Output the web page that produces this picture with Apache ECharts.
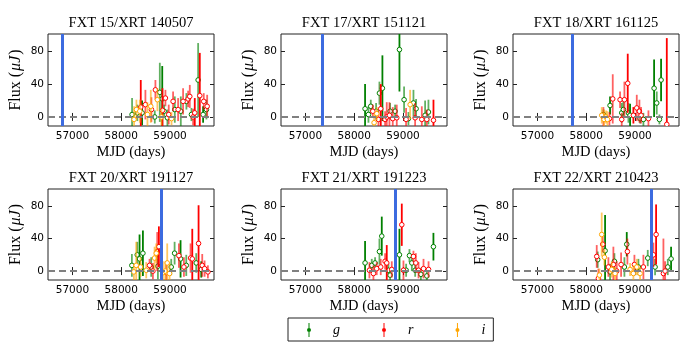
<!DOCTYPE html>
<html>
<head>
<meta charset="utf-8">
<script src="https://cdn.jsdelivr.net/npm/echarts@6/dist/echarts.min.js"></script>
<style>
  html, body { margin: 0; padding: 0; background: #fff; }
  #chart { width: 700px; height: 350px; }
</style>
</head>
<body>
<div id="chart"></div>
<script>
// panel titles and the XRT detection date (MJD) of each source
const titles = ['FXT 15/XRT 140507', 'FXT 17/XRT 151121', 'FXT 18/XRT 161125',
  'FXT 20/XRT 191127', 'FXT 21/XRT 191223', 'FXT 22/XRT 210423']
const xrtMjd = [56784, 57347, 57717, 58814, 58840, 59327]
const xTicks = [57000, 58000, 59000]
const yTicks = [0, 40, 80]

// rows: [MJD, flux (uJy), error, detection flag]
const fxt15_g = [[58222, 3, 20, 0], [58330, 5, 10, 0], [58427, 5, 15, 1], [58687, 0, 8, 0],
  [58790, 30, 36, 0], [58840, 22, 40, 1], [58878, 7, 8, 0], [58946, -1, 10, 0], [59097, 9, 16, 0],
  [59220, 7, 18, 0], [59335, 19, 10, 0], [59438, 3, 8, 0], [59575, 45, 45, 0], [59677, 3, 10, 1],
  [59745, 9, 12, 0]]
const fxt15_r = [[58400, 12, 33, 1], [58495, 15, 18, 0], [58618, 9, 15, 0], [58700, 33, 12, 0],
  [58844, 8, 27, 1], [58905, 23, 10, 0], [58973, 3, 12, 0], [59062, 19, 12, 0], [59165, 9, 14, 0],
  [59267, 19, 16, 0], [59370, 22, 10, 0], [59404, 25, 14, 0], [59472, 0, 10, 0], [59506, 5, 18, 1],
  [59609, 26, 52, 1], [59690, 19, 10, 0], [59760, 13, 14, 0]]
const fxt15_i = [[58263, -3, 16, 0], [58311, 9, 12, 0], [58380, 7, 14, 0], [58537, 3, 15, 0],
  [58605, 13, 20, 0], [58741, 21, 14, 0], [58823, 0, 10, 0], [59030, -2, 8, 0]]

const fxt17_g = [[58222, 10, 30, 1], [58291, 3, 10, 0], [58339, 13, 8, 0], [58448, 7, 10, 0],
  [58516, 29, 14, 0], [58577, 35, 40, 1], [58735, 7, 10, 0], [58837, 7, 8, 0], [58926, 82, 51, 1],
  [59021, 21, 16, 0], [59110, -2, 8, 0], [59213, 17, 16, 0], [59267, 10, 12, 0], [59452, 2, 18, 0],
  [59520, 6, 15, 0]]
const fxt17_r = [[58380, 7, 8, 0], [58496, -3, 10, 0], [58543, 10, 30, 1], [58632, -3, 10, 0],
  [58666, 0, 18, 0], [58721, 2, 16, 0], [58789, -2, 14, 0], [58871, -1, 16, 0], [59062, -3, 14, 0],
  [59247, -1, 18, 0], [59384, -3, 16, 0], [59486, -3, 12, 0], [59623, -4, 25, 1]]
const fxt17_i = [[58407, -7, 10, 0], [58462, 4, 8, 0], [59145, 15, 18, 0]]

const fxt18_g = [[58352, 3, 6, 0], [58488, 14, 11, 1], [58727, 5, 12, 0], [58761, 9, 10, 0],
  [58864, 5, 12, 0], [58898, 2, 14, 1], [59103, -2, 6, 0], [59171, -3, 8, 0], [59390, 35, 35, 1],
  [59444, 17, 14, 0], [59499, -3, 6, 0], [59533, 45, 26, 1]]
const fxt18_r = [[58352, 0, 12, 0], [58475, -2, 8, 0], [58543, 22, 30, 0], [58693, 21, 10, 0],
  [58727, -3, 8, 0], [58782, 21, 22, 0], [58850, 41, 36, 1], [58966, 2, 10, 1], [59035, 11, 16, 0],
  [59089, 7, 14, 0], [59123, 2, 10, 0], [59274, -2, 10, 0], [59650, -9, 105, 1]]
const fxt18_i = [[58318, 2, 10, 0], [58365, -3, 12, 0], [58406, 0, 8, 0], [58434, -3, 10, 0]]

const fxt20_g = [[58218, 7, 14, 0], [58328, 20, 16, 0], [58375, 15, 30, 1], [58444, 22, 28, 1],
  [58614, 5, 12, 0], [58751, 6, 16, 0], [59024, 5, 10, 0], [59093, 22, 14, 0], [59215, 15, 23, 1],
  [59332, 7, 13, 0], [59536, 10, 12, 0], [59639, 2, 10, 1]]
const fxt20_r = [[58580, 7, 8, 0], [58649, 0, 10, 0], [58737, 24, 24, 0], [58771, 30, 25, 1],
  [58922, -2, 10, 0], [59181, 19, 15, 0], [59284, 5, 12, 0], [59420, 16, 18, 0], [59455, 15, 37, 1],
  [59584, 34, 47, 1], [59659, 7, 14, 0], [59707, 3, 10, 0], [59775, -1, 8, 0]]
const fxt20_i = [[58259, -1, 10, 0], [58307, 7, 29, 0], [58396, 5, 12, 0], [58512, 1, 10, 0],
  [58683, 16, 14, 0], [58717, 22, 12, 0], [58854, -2, 14, 0], [58901, 0, 12, 0], [58942, 10, 24, 0],
  [58990, -3, 12, 0]]

const fxt21_g = [[58222, 10, 27, 1], [58359, 7, 8, 0], [58427, 10, 7, 0], [58516, 24, 16, 0],
  [58564, 43, 24, 1], [58700, 1, 8, 0], [58735, -5, 8, 0], [58926, 20, 32, 1], [59063, 1, 8, 0],
  [59131, 19, 8, 0], [59180, 10, 10, 0], [59248, 1, 8, 0], [59365, -4, 8, 0], [59487, -6, 8, 0],
  [59622, 30, 17, 1]]
const fxt21_r = [[58311, 1, 10, 0], [58393, -3, 10, 0], [58461, 3, 8, 0], [58543, 5, 10, 0],
  [58632, 12, 10, 0], [58666, 10, 22, 1], [58769, 2, 10, 0], [58974, 57, 26, 1], [59008, 1, 12, 0],
  [59213, 18, 7, 0], [59262, 10, 12, 0], [59317, 1, 10, 0], [59419, 3, 12, 0], [59522, 2, 10, 0]]
const fxt21_i = []

const fxt22_g = [[58235, 14, 10, 0], [58386, 25, 44, 1], [58488, -1, 10, 0], [58577, 12, 10, 0],
  [58782, 5, 12, 0], [58830, 33, 15, 1], [59069, 5, 10, 0], [59260, 16, 10, 0], [59410, 5, 10, 0],
  [59670, 5, 10, 0], [59738, 15, 15, 1]]
const fxt22_r = [[58215, 18, 14, 0], [58249, -9, 12, 0], [58338, 33, 10, 0], [58454, 5, 12, 0],
  [58556, 8, 22, 0], [58625, 0, 12, 0], [58714, 8, 15, 0], [58843, 24, 16, 0], [58987, 8, 12, 0],
  [59171, 5, 15, 0], [59376, 20, 15, 0], [59431, 45, 37, 1], [59581, -3, 43, 0], [59615, 0, 12, 0]]
const fxt22_i = [[58270, -5, 8, 0], [58317, 45, 27, 0], [58372, 17, 10, 0], [58522, 2, 10, 0],
  [58590, -3, 8, 0], [58898, 2, 8, 0], [58966, -3, 10, 0], [59035, 5, 10, 0], [59103, -3, 8, 0]]

const panelData = [
  [fxt15_g, fxt15_r, fxt15_i],
  [fxt17_g, fxt17_r, fxt17_i],
  [fxt18_g, fxt18_r, fxt18_i],
  [fxt20_g, fxt20_r, fxt20_i],
  [fxt21_g, fxt21_r, fxt21_i],
  [fxt22_g, fxt22_r, fxt22_i]
]
const bands = ['g', 'r', 'i']
const bandColors = ['#008000', '#ff0000', '#ffa500']

const cellLeft = [48, 281, 513]
const rowTop = [34, 189]
const rowH = [92, 91]
const cellW = 166
const serif = 'Liberation Serif'
const sans = 'DejaVu Sans'

function errorBar(params, api) {
  const x = api.value(0)
  const y = api.value(1)
  const e = api.value(2)
  const det = api.value(3)
  const color = api.visual('color')
  const top = api.coord([x, y + e])
  const bot = api.coord([x, y - e])
  const c = api.coord([x, y])
  return {
    type: 'group',
    children: [
      {
        type: 'line',
        shape: { x1: top[0], y1: top[1], x2: bot[0], y2: bot[1] },
        style: { stroke: color, lineWidth: 1.8, opacity: det ? 1 : 0.62 }
      },
      {
        type: 'circle',
        shape: { cx: c[0], cy: c[1], r: 2.3 },
        style: { fill: '#fff', stroke: color, lineWidth: 1 }
      }
    ]
  }
}

const grid = []
const xAxis = []
const yAxis = []
const series = []

panelData.forEach((bandsData, k) => {
  const row = Math.floor(k / 3)
  const col = k % 3
  grid.push({
    left: cellLeft[col], top: rowTop[row], width: cellW, height: rowH[row],
    show: true, borderColor: '#222', borderWidth: 1, backgroundColor: 'transparent'
  })
  const tick = { inside: true, length: 4, lineStyle: { color: '#222', width: 1 } }
  xAxis.push({
    type: 'value', gridIndex: k, min: 56500, max: 59900, position: 'bottom',
    axisLine: { show: false }, splitLine: { show: false },
    axisTick: Object.assign({ customValues: xTicks }, tick),
    axisLabel: {
      customValues: xTicks, color: '#000', fontFamily: sans, fontSize: 10.5, margin: 5,
      formatter: (v) => String(v)
    },
    name: 'MJD (days)', nameLocation: 'middle', nameGap: 19,
    nameTextStyle: { fontFamily: serif, fontSize: 14.5, color: '#000' }
  })
  // top axis carries the panel title
  xAxis.push({
    type: 'value', gridIndex: k, min: 56500, max: 59900, position: 'top',
    axisLine: { show: false }, splitLine: { show: false },
    axisTick: Object.assign({ customValues: xTicks }, tick),
    axisLabel: { show: false },
    name: titles[k], nameLocation: 'middle', nameGap: 3,
    nameTextStyle: { fontFamily: serif, fontSize: 14.5, color: '#000', verticalAlign: 'bottom' }
  })
  yAxis.push({
    type: 'value', gridIndex: k, min: -11, max: 101, position: 'left',
    axisLine: { show: false }, splitLine: { show: false },
    axisTick: Object.assign({ customValues: yTicks }, tick),
    axisLabel: { customValues: yTicks, color: '#000', fontFamily: sans, fontSize: 10.5, margin: 4 },
    name: 'Flux ({m|μJ})', nameLocation: 'middle', nameGap: 24,
    nameTextStyle: {
      fontFamily: serif, fontSize: 16, color: '#000',
      rich: { m: { fontFamily: serif, fontStyle: 'italic', fontSize: 16, color: '#000', padding: [0, 1, 0, 1] } }
    }
  })
  yAxis.push({
    type: 'value', gridIndex: k, min: -11, max: 101, position: 'right',
    axisLine: { show: false }, splitLine: { show: false },
    axisTick: Object.assign({ customValues: yTicks }, tick),
    axisLabel: { show: false }
  })

  bandsData.forEach((rows, b) => {
    series.push({
      name: bands[b],
      type: 'custom',
      xAxisIndex: 2 * k,
      yAxisIndex: 2 * k,
      clip: true,
      itemStyle: { color: bandColors[b] },
      renderItem: errorBar,
      encode: { x: 0, y: 1 },
      data: rows,
      silent: true
    })
  })

  // XRT date and zero level
  series.push({
    name: 'ref',
    type: 'line',
    xAxisIndex: 2 * k,
    yAxisIndex: 2 * k,
    data: [],
    z: 5,
    markLine: {
      silent: true,
      symbol: 'none',
      animation: false,
      label: { show: false },
      data: [
        { yAxis: 0, lineStyle: { color: '#808080', width: 2, type: [7, 4] } },
        { xAxis: xrtMjd[k], lineStyle: { color: '#3c6be0', width: 3, type: 'solid' } }
      ]
    }
  })
})

const chart = echarts.init(document.getElementById('chart'))
chart.setOption({
  animation: false,
  grid,
  xAxis,
  yAxis,
  series,
  legend: {
    data: bands,
    left: 288,
    top: 318,
    orient: 'horizontal',
    itemWidth: 4,
    itemHeight: 15,
    itemGap: 42,
    padding: [5, 8, 4, 19],
    borderColor: '#222',
    borderWidth: 1,
    icon: 'path://M2,0L3,0L3,14L2,14Z M2.5,5A2,2 0 1 1 2.5,9A2,2 0 1 1 2.5,5Z',
    selectedMode: false,
    formatter: (n) => '{a|' + n + '}',
    textStyle: {
      rich: { a: { fontFamily: serif, fontStyle: 'italic', fontSize: 14, color: '#000', padding: [0, 0, 0, 17], width: 10 } }
    }
  }
})
</script>
</body>
</html>
